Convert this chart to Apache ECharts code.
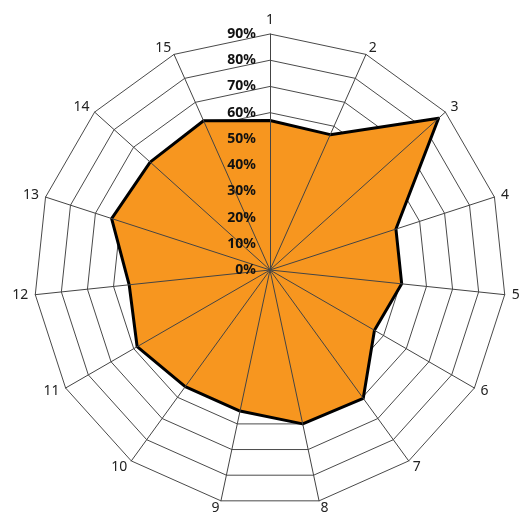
<!DOCTYPE html>
<html>
<head>
<meta charset="utf-8">
<script src="https://cdn.jsdelivr.net/npm/echarts@6/dist/echarts.min.js"></script>
<style>html,body{margin:0;padding:0;background:#fff;}#c{width:521px;height:522px;}</style>
</head>
<body>
<div id="c"></div>
<script>
var categories = ['1','2','3','4','5','6','7','8','9','10','11','12','13','14','15'];
var values = [57, 56.5, 86.5, 50.5, 50.5, 46, 60.5, 60, 55, 55, 58.5, 54, 63.5, 61.5, 62.3];
var axisMax = 90;
var tickCount = 9;

// ECharts lays indicators out counter-clockwise; reorder to go clockwise.
function clockwiseOrder(arr) {
  return [arr[0]].concat(arr.slice(1).reverse());
}
var catsCW = clockwiseOrder(categories);
var valsCW = clockwiseOrder(values);

function makeIndicators(withLabel) {
  return catsCW.map(function (c, i) {
    var ind = {name: c, min: 0, max: axisMax};
    if (withLabel && i === 0) ind.axisLabel = {show: true};
    return ind;
  });
}

var common = {
  center: [270, 270],
  radius: 236,
  startAngle: 90,
  shape: 'polygon',
  splitNumber: tickCount,
  splitArea: {show: false},
  axisTick: {show: false}
};

var chart = echarts.init(document.getElementById('c'), null, {renderer: 'canvas'});
chart.setOption({
  animation: false,
  backgroundColor: '#ffffff',
  radar: [
    Object.assign({}, common, {
      z: 0,
      indicator: makeIndicators(false),
      axisName: {color: '#222', fontFamily: 'Noto Sans', fontSize: 14},
      nameGap: 7,
      splitLine: {lineStyle: {color: '#4a4a4a', width: 1}},
      axisLine: {show: false},
      axisLabel: {show: false}
    }),
    Object.assign({}, common, {
      z: 5,
      indicator: makeIndicators(true),
      axisName: {show: false},
      splitLine: {show: false},
      axisLine: {lineStyle: {color: '#444', width: 1}},
      axisLabel: {
        show: false,
        formatter: '{value}%',
        color: '#111',
        fontWeight: 'bold',
        fontFamily: 'Noto Sans',
        fontSize: 14,
        margin: 14
      }
    })
  ],
  series: [{
    type: 'radar',
    radarIndex: 0,
    symbol: 'none',
    z: 2,
    lineStyle: {width: 0, opacity: 0},
    areaStyle: {color: '#F7961F', opacity: 1},
    data: [{value: valsCW}]
  }, {
    type: 'radar',
    radarIndex: 0,
    symbol: 'none',
    z: 3,
    lineStyle: {color: '#000', width: 3},
    data: [{value: valsCW}]
  }]
});
</script>
</body>
</html>
